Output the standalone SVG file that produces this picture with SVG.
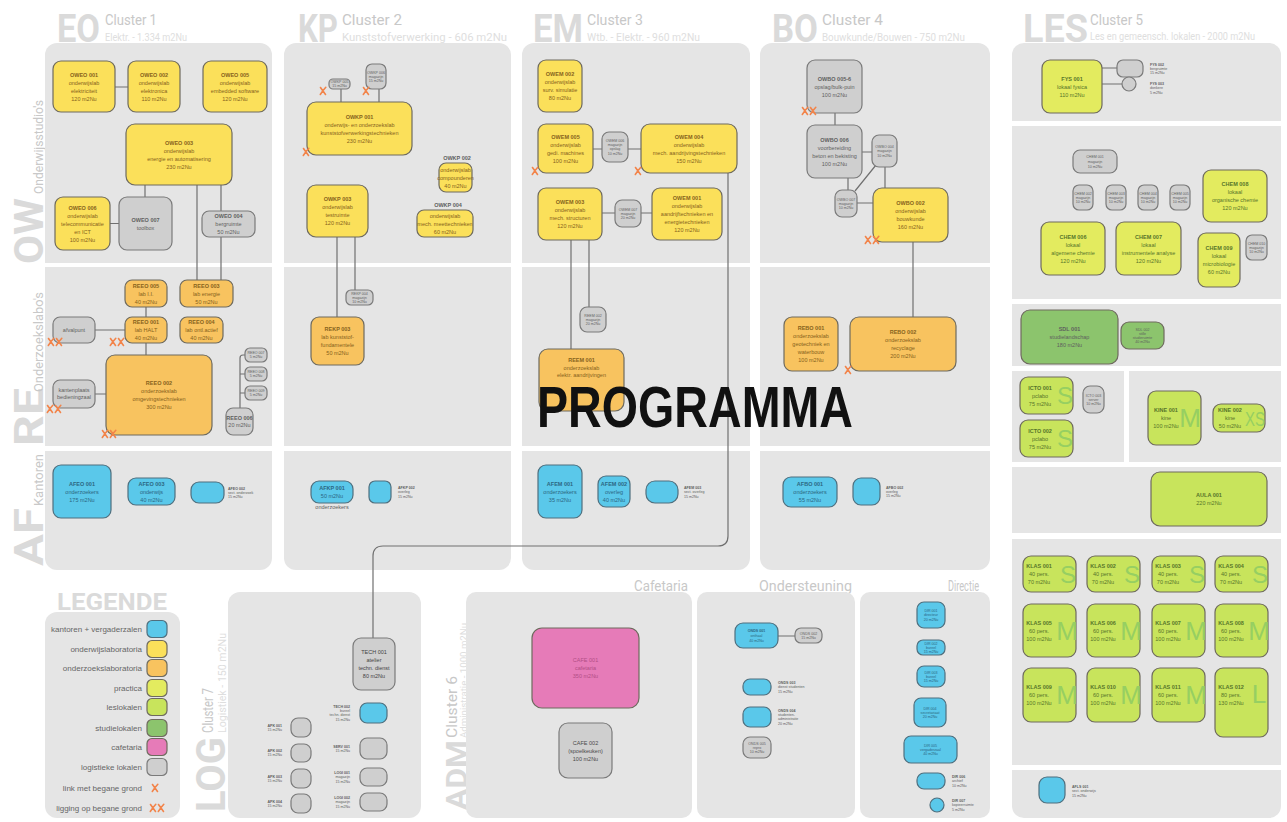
<svg xmlns="http://www.w3.org/2000/svg" width="1287" height="822" viewBox="0 0 1287 822">
<defs>
<style>
.pn{fill:#e5e5e5}
.wh{fill:#fff}
.n{stroke:#6e6a5e;stroke-width:1.2}
.yl{fill:#fbe05a}
.or{fill:#f8c35f}
.bl{fill:#5ac8ea;stroke:#4f6f7e}
.gy{fill:#cfcfcf;stroke:#7a7a7a}
.pr{fill:#e3eb5f}
.ls{fill:#c8e45c}
.st{fill:#8cc46d}
.cf{fill:#e67bb8}
.c{fill:none;stroke:#707070;stroke-width:1.2}
text{font-family:"Liberation Sans",Arial,sans-serif}
.t{font-size:5.5px;text-anchor:middle}
.tn{font-size:3.6px;text-anchor:middle}
.tl{font-size:3.6px}
.tr{font-size:3.6px;text-anchor:end}
.b{font-weight:bold}
.ty{fill:#86621c}
.tg{fill:#5f5f5f}
.tb{fill:#2c6782}
.tz{fill:#56752a}
.tp{fill:#b24f86}
.big{fill:#96cf62;text-anchor:middle}
.hd{fill:#dadada;font-weight:bold;font-family:"Liberation Sans Narrow","Roboto","Liberation Sans",sans-serif}
.cl{fill:#c8c8c8;font-family:"Liberation Sans Narrow","Roboto","Liberation Sans",sans-serif}
.sb{fill:#dedede;font-family:"Liberation Sans Narrow","Roboto","Liberation Sans",sans-serif}
.lg{font-size:8px;fill:#666;text-anchor:end}
.x{fill:none;stroke:#f2844a;stroke-width:1.6;stroke-linecap:round}
</style>
<g id="xs"><path class="x" d="M0.5,0.5 L5.5,7.5 M5.8,0.3 Q2.8,3.5 0.3,7.5"/></g>
<g id="xd"><use href="#xs"/><use href="#xs" x="8"/></g>
</defs>
<rect width="1287" height="822" fill="#fff"/>

<g id="headers">
<text class="hd" x="57" y="42" font-size="38" textLength="43" lengthAdjust="spacingAndGlyphs">EO</text>
<text class="cl" x="105" y="25" font-size="15" textLength="52" lengthAdjust="spacingAndGlyphs">Cluster 1</text>
<text class="sb" x="105" y="41" font-size="11" textLength="82" lengthAdjust="spacingAndGlyphs">Elektr. - 1.334 m2Nu</text>
<text class="hd" x="298" y="42" font-size="38" textLength="40" lengthAdjust="spacingAndGlyphs">KP</text>
<text class="cl" x="342" y="25" font-size="15" textLength="60" lengthAdjust="spacingAndGlyphs">Cluster 2</text>
<text class="sb" x="342" y="41" font-size="11" textLength="165" lengthAdjust="spacingAndGlyphs">Kunststofverwerking - 606 m2Nu</text>
<text class="hd" x="533" y="42" font-size="38" textLength="50" lengthAdjust="spacingAndGlyphs">EM</text>
<text class="cl" x="587" y="25" font-size="15" textLength="56" lengthAdjust="spacingAndGlyphs">Cluster 3</text>
<text class="sb" x="587" y="41" font-size="11" textLength="113" lengthAdjust="spacingAndGlyphs">Wtb. - Elektr. - 960 m2Nu</text>
<text class="hd" x="772" y="42" font-size="38" textLength="46" lengthAdjust="spacingAndGlyphs">BO</text>
<text class="cl" x="822" y="25" font-size="15" textLength="61" lengthAdjust="spacingAndGlyphs">Cluster 4</text>
<text class="sb" x="822" y="41" font-size="11" textLength="143" lengthAdjust="spacingAndGlyphs">Bouwkunde/Bouwen - 750 m2Nu</text>
<text class="hd" x="1023" y="42" font-size="38" textLength="65" lengthAdjust="spacingAndGlyphs">LES</text>
<text class="cl" x="1090" y="25" font-size="15" textLength="53" lengthAdjust="spacingAndGlyphs">Cluster 5</text>
<text class="sb" x="1090" y="40" font-size="10" textLength="165" lengthAdjust="spacingAndGlyphs">Les en gemeensch. lokalen - 2000 m2Nu</text>
<text class="hd" transform="translate(43,264) rotate(-90)" font-size="40" textLength="66" lengthAdjust="spacingAndGlyphs">OW</text>
<text class="cl" transform="translate(43,194) rotate(-90)" font-size="13" textLength="94" lengthAdjust="spacingAndGlyphs">Onderwijsstudio's</text>
<text class="hd" transform="translate(43,446) rotate(-90)" font-size="40" textLength="58" lengthAdjust="spacingAndGlyphs">RE</text>
<text class="cl" transform="translate(43,392) rotate(-90)" font-size="13" textLength="100" lengthAdjust="spacingAndGlyphs">Onderzoekslabo's</text>
<text class="hd" transform="translate(43,566) rotate(-90)" font-size="40" textLength="58" lengthAdjust="spacingAndGlyphs">AF</text>
<text class="cl" transform="translate(43,506) rotate(-90)" font-size="13" textLength="52" lengthAdjust="spacingAndGlyphs">Kantoren</text>
<text class="hd" transform="translate(225,812) rotate(-90)" font-size="40" textLength="75" lengthAdjust="spacingAndGlyphs">LOG</text>
<text class="cl" transform="translate(213,733) rotate(-90)" font-size="15" textLength="45" lengthAdjust="spacingAndGlyphs">Cluster 7</text>
<text class="sb" transform="translate(226,733) rotate(-90)" font-size="10" textLength="100" lengthAdjust="spacingAndGlyphs">Logistiek - 150 m2Nu</text>
<text class="hd" transform="translate(467,810) rotate(-90)" font-size="30" textLength="70" lengthAdjust="spacingAndGlyphs">ADM</text>
<text class="cl" transform="translate(457,738) rotate(-90)" font-size="14" textLength="62" lengthAdjust="spacingAndGlyphs">Cluster 6</text>
<text class="sb" transform="translate(467,738) rotate(-90)" font-size="9" textLength="115" lengthAdjust="spacingAndGlyphs">Administratie - 1000 m2Nu</text>
<text class="cl" x="688" y="591" font-size="15" text-anchor="end" textLength="54" lengthAdjust="spacingAndGlyphs">Cafetaria</text>
<text class="cl" x="852" y="591" font-size="15" text-anchor="end" textLength="93" lengthAdjust="spacingAndGlyphs">Ondersteuning</text>
<text class="cl" x="979" y="591" font-size="15" text-anchor="end" textLength="31" lengthAdjust="spacingAndGlyphs">Directie</text>
<text class="hd" x="57" y="610" font-size="24" textLength="110" lengthAdjust="spacingAndGlyphs">LEGENDE</text>
</g>

<g id="panels">
<rect class="pn" x="45" y="43" width="227" height="527" rx="12"/>
<rect class="pn" x="284" y="43" width="227" height="527" rx="12"/>
<rect class="pn" x="522" y="43" width="228" height="527" rx="12"/>
<rect class="pn" x="760" y="43" width="230" height="527" rx="12"/>
<rect class="wh" x="40" y="263" width="955" height="4"/>
<rect class="wh" x="40" y="446" width="955" height="5"/>
<rect class="pn" x="1012" y="43" width="269" height="775" rx="12"/>
<rect class="wh" x="1008" y="121" width="279" height="5"/>
<rect class="wh" x="1008" y="299" width="279" height="5"/>
<rect class="wh" x="1008" y="366" width="279" height="5"/>
<rect class="wh" x="1008" y="462" width="279" height="5"/>
<rect class="wh" x="1008" y="533" width="279" height="6"/>
<rect class="wh" x="1008" y="765" width="279" height="5"/>
<rect class="wh" x="1124" y="369" width="5" height="95"/>
<rect class="pn" x="45" y="612" width="135" height="206" rx="12"/>
<rect class="pn" x="228" y="592" width="193" height="226" rx="12"/>
<rect class="pn" x="466" y="592" width="226" height="226" rx="10"/>
<rect class="pn" x="697" y="592" width="158" height="226" rx="10"/>
<rect class="pn" x="860" y="592" width="130" height="226" rx="10"/>
</g>

<g id="connectors">
<path class="c" d="M115,87H128 M145,185V197 M110,223.5H119 M197,185V280 M221,185V211 M221,237V280 M146,307V317 M146,343V355 M95,330H125 M95,394H106 M245,355H243Q240,355 240,358V408 M240,374H245 M240,393H245"/>
<path class="c" d="M341,89V102 M379,89V102 M337,237V317 M355,237V290"/>
<path class="c" d="M593,149H602 M628,149H641 M602,213H615 M641,213H652 M571,240V349 M589,240V307"/>
<path class="c" d="M728,173V536Q728,546 718,546H383Q373,546 373,556V638"/>
<path class="c" d="M835,113V125 M862,152H872 M848,178V190 M857,203H873 M855,191L876,165 M885,167V188 M913,242V317"/>
<path class="c" d="M1102,68H1117 M1102,84H1122 M778,636H795"/>
</g>

<!-- Cluster 1 -->
<g id="OWEO001"><rect class="n yl" x="53" y="61" width="62" height="51" rx="8"/><text class="t ty" x="84" y="76.5"><tspan class="b">OWEO 001</tspan><tspan x="84" dy="8">onderwijslab</tspan><tspan x="84" dy="8">elektriciteit</tspan><tspan x="84" dy="8">120 m2Nu</tspan></text></g>
<g id="OWEO002"><rect class="n yl" x="128" y="61" width="52" height="51" rx="8"/><text class="t ty" x="154" y="76.5"><tspan class="b">OWEO 002</tspan><tspan x="154" dy="8">onderwijslab</tspan><tspan x="154" dy="8">elektronica</tspan><tspan x="154" dy="8">110 m2Nu</tspan></text></g>
<g id="OWEO005"><rect class="n yl" x="203" y="61" width="64" height="51" rx="8"/><text class="t ty" x="235" y="76.5"><tspan class="b">OWEO 005</tspan><tspan x="235" dy="8">onderwijslab</tspan><tspan x="235" dy="8">embedded software</tspan><tspan x="235" dy="8">120 m2Nu</tspan></text></g>
<g id="OWEO003"><rect class="n yl" x="126" y="124" width="106" height="61" rx="9"/><text class="t ty" x="179" y="144.5"><tspan class="b">OWEO 003</tspan><tspan x="179" dy="8">onderwijslab</tspan><tspan x="179" dy="8">energie en automatisering</tspan><tspan x="179" dy="8">230 m2Nu</tspan></text></g>
<g id="OWEO006"><rect class="n yl" x="55" y="197" width="55" height="53" rx="8"/><text class="t ty" x="82.5" y="209.5"><tspan class="b">OWEO 006</tspan><tspan x="82.5" dy="8">onderwijslab</tspan><tspan x="82.5" dy="8">telecommunicatie</tspan><tspan x="82.5" dy="8">en ICT</tspan><tspan x="82.5" dy="8">100 m2Nu</tspan></text></g>
<g id="OWEO007"><rect class="n gy" x="119" y="197" width="53" height="53" rx="8"/><text class="t tg" x="145.5" y="221.5"><tspan class="b">OWEO 007</tspan><tspan x="145.5" dy="8">toolbox</tspan></text></g>
<g id="OWEO004"><rect class="n gy" x="202" y="211" width="53" height="26" rx="7"/><text class="t tg" x="228.5" y="218"><tspan class="b">OWEO 004</tspan><tspan x="228.5" dy="8">bergruimte</tspan><tspan x="228.5" dy="8">50 m2Nu</tspan></text></g>
<g id="REEO005"><rect class="n or" x="125" y="280" width="42" height="27" rx="7"/><text class="t ty" x="146" y="287.5"><tspan class="b">REEO 005</tspan><tspan x="146" dy="8">lab I.I.</tspan><tspan x="146" dy="8">40 m2Nu</tspan></text></g>
<g id="REEO003"><rect class="n or" x="180" y="280" width="53" height="27" rx="7"/><text class="t ty" x="206.5" y="287.5"><tspan class="b">REEO 003</tspan><tspan x="206.5" dy="8">lab energie</tspan><tspan x="206.5" dy="8">50 m2Nu</tspan></text></g>
<g id="REEO001"><rect class="n or" x="125" y="317" width="42" height="26" rx="7"/><text class="t ty" x="146" y="324"><tspan class="b">REEO 001</tspan><tspan x="146" dy="8">lab HALT</tspan><tspan x="146" dy="8">40 m2Nu</tspan></text></g>
<g id="REEO004"><rect class="n or" x="180" y="317" width="43" height="26" rx="7"/><text class="t ty" x="201.5" y="324"><tspan class="b">REEO 004</tspan><tspan x="201.5" dy="8">lab ontl.actief</tspan><tspan x="201.5" dy="8">40 m2Nu</tspan></text></g>
<g id="afvalpunt"><rect class="n gy" x="53" y="317" width="42" height="26" rx="7"/><text class="t tg" x="74" y="332">afvalpunt</text></g>
<g id="REEO002"><rect class="n or" x="106" y="355" width="106" height="80" rx="9"/><text class="t ty" x="159" y="385"><tspan class="b">REEO 002</tspan><tspan x="159" dy="8">onderzoekslab</tspan><tspan x="159" dy="8">omgevingstechnieken</tspan><tspan x="159" dy="8">300 m2Nu</tspan></text></g>
<g id="bedienzaal"><rect class="n gy" x="53" y="380" width="42" height="28" rx="7"/><text class="t tg" x="74" y="392" font-size="4.6"><tspan>kantenplaats</tspan><tspan x="74" dy="7">bedieningzaal</tspan></text></g>
<g id="REEO007"><rect class="n gy" x="245" y="348" width="22" height="14" rx="5"/><text class="tn tg" x="256" y="354.2"><tspan>REEO 007</tspan><tspan x="256" dy="4.2">5 m2Nu</tspan></text></g>
<g id="REEO008"><rect class="n gy" x="245" y="367" width="22" height="14" rx="5"/><text class="tn tg" x="256" y="373.2"><tspan>REEO 008</tspan><tspan x="256" dy="4.2">5 m2Nu</tspan></text></g>
<g id="REEO009"><rect class="n gy" x="245" y="386" width="22" height="14" rx="5"/><text class="tn tg" x="256" y="392.2"><tspan>REEO 009</tspan><tspan x="256" dy="4.2">5 m2Nu</tspan></text></g>
<g id="REEO006"><rect class="n gy" x="226" y="408" width="27" height="27" rx="7"/><text class="t tg" x="239.5" y="419.5" font-size="4.6"><tspan class="b">REEO 006</tspan><tspan x="239.5" dy="7">20 m2Nu</tspan></text></g>
<g id="AFEO001"><rect class="n bl" x="53" y="465" width="58" height="53" rx="8"/><text class="t tb" x="82" y="485.5"><tspan class="b">AFEO 001</tspan><tspan x="82" dy="8">onderzoekers</tspan><tspan x="82" dy="8">175 m2Nu</tspan></text></g>
<g id="AFEO003"><rect class="n bl" x="128" y="478" width="47" height="27" rx="8"/><text class="t tb" x="151.5" y="485.5"><tspan class="b">AFEO 003</tspan><tspan x="151.5" dy="8">onderwijs</tspan><tspan x="151.5" dy="8">40 m2Nu</tspan></text></g>
<g id="AFEO002"><rect class="n bl" x="191" y="482" width="33" height="21" rx="8"/><text class="tl tg" x="228" y="489.6"><tspan class="b">AFEO 002</tspan><tspan x="228" dy="4.2">sect. onderzoek</tspan><tspan x="228" dy="4.2">15 m2Nu</tspan></text></g>

<!-- Cluster 2 -->
<g id="OWKP005"><rect class="n gy" x="329" y="79" width="21" height="10" rx="4"/><text class="tn tg" x="339.5" y="83.2"><tspan>OWKP 005</tspan><tspan x="339.5" dy="4">15 m2Nu</tspan></text></g>
<g id="OWKP006"><rect class="n gy" x="366" y="64" width="20" height="25" rx="6"/><text class="tn tg" x="376" y="73.6"><tspan>OWKP 006</tspan><tspan x="376" dy="4.2">magazijn</tspan><tspan x="376" dy="4.2">15 m2Nu</tspan></text></g>
<g id="OWKP001"><rect class="n yl" x="307" y="102" width="105" height="53" rx="9"/><text class="t ty" x="359.5" y="118.5"><tspan class="b">OWKP 001</tspan><tspan x="359.5" dy="8">onderwijs- en onderzoekslab</tspan><tspan x="359.5" dy="8">kunststofverwerkingstechnieken</tspan><tspan x="359.5" dy="8">230 m2Nu</tspan></text></g>
<g id="OWKP002"><text class="t tg b" x="457" y="160">OWKP 002</text><rect class="n yl" x="439" y="163" width="33" height="29" rx="7"/><text class="t ty" x="455.5" y="171.5" font-size="4.8"><tspan>onderwijslab</tspan><tspan x="455.5" dy="8">compounderen</tspan><tspan x="455.5" dy="8">40 m2Nu</tspan></text></g>
<g id="OWKP004"><text class="t tg b" x="448" y="207">OWKP 004</text><rect class="n yl" x="417" y="210" width="56" height="27" rx="7"/><text class="t ty" x="445" y="217.5"><tspan>onderwijslab</tspan><tspan x="445" dy="8">mech. meettechnieken</tspan><tspan x="445" dy="8">60 m2Nu</tspan></text></g>
<g id="OWKP003"><rect class="n yl" x="307" y="185" width="61" height="52" rx="9"/><text class="t ty" x="337.5" y="201"><tspan class="b">OWKP 003</tspan><tspan x="337.5" dy="8">onderwijslab</tspan><tspan x="337.5" dy="8">testruimte</tspan><tspan x="337.5" dy="8">120 m2Nu</tspan></text></g>
<g id="REKP004"><rect class="n gy" x="346" y="290" width="27" height="15" rx="5"/><text class="tn tg" x="359.5" y="294.6"><tspan>REKP 004</tspan><tspan x="359.5" dy="4.2">magazijn</tspan><tspan x="359.5" dy="4.2">10 m2Nu</tspan></text></g>
<g id="REKP003"><rect class="n or" x="311" y="317" width="53" height="48" rx="8"/><text class="t ty" x="337.5" y="331"><tspan class="b">REKP 003</tspan><tspan x="337.5" dy="8">lab kunststof-</tspan><tspan x="337.5" dy="8">fundamentele</tspan><tspan x="337.5" dy="8">50 m2Nu</tspan></text></g>
<g id="AFKP001"><rect class="n bl" x="311" y="481" width="42" height="22" rx="8"/><text class="t tb" x="332" y="490"><tspan class="b">AFKP 001</tspan><tspan x="332" dy="8">50 m2Nu</tspan></text><text class="t tg" x="332" y="509" font-size="4.6">onderzoekers</text></g>
<g id="AFKP002"><rect class="n bl" x="369" y="481" width="22" height="22" rx="6"/><text class="tl tg" x="398" y="489.1"><tspan class="b">AFKP 002</tspan><tspan x="398" dy="4.2">overleg</tspan><tspan x="398" dy="4.2">15 m2Nu</tspan></text></g>

<!-- Cluster 3 -->
<g id="OWEM002"><rect class="n yl" x="538" y="60" width="44" height="52" rx="8"/><text class="t ty" x="560" y="76" font-size="5"><tspan class="b">OWEM 002</tspan><tspan x="560" dy="8">onderwijslab</tspan><tspan x="560" dy="8">surv. simulatie</tspan><tspan x="560" dy="8">80 m2Nu</tspan></text></g>
<g id="OWEM005"><rect class="n yl" x="538" y="124" width="55" height="49" rx="8"/><text class="t ty" x="565.5" y="138.5"><tspan class="b">OWEM 005</tspan><tspan x="565.5" dy="8">onderwijslab</tspan><tspan x="565.5" dy="8">gedi. machines</tspan><tspan x="565.5" dy="8">100 m2Nu</tspan></text></g>
<g id="OWEM006"><rect class="n gy" x="602" y="132" width="26" height="30" rx="7"/><text class="tn tg" x="615" y="142"><tspan>OWEM 006</tspan><tspan x="615" dy="4.2">magazijn</tspan><tspan x="615" dy="4.2">opslag</tspan><tspan x="615" dy="4.2">10 m2Nu</tspan></text></g>
<g id="OWEM004"><rect class="n yl" x="641" y="124" width="96" height="49" rx="9"/><text class="t ty" x="689" y="138.5"><tspan class="b">OWEM 004</tspan><tspan x="689" dy="8">onderwijslab</tspan><tspan x="689" dy="8">mech. aandrijvingstechnieken</tspan><tspan x="689" dy="8">150 m2Nu</tspan></text></g>
<g id="OWEM003"><rect class="n yl" x="538" y="188" width="64" height="52" rx="8"/><text class="t ty" x="570" y="204"><tspan class="b">OWEM 003</tspan><tspan x="570" dy="8">onderwijslab</tspan><tspan x="570" dy="8">mech. structuren</tspan><tspan x="570" dy="8">120 m2Nu</tspan></text></g>
<g id="OWEM007"><rect class="n gy" x="615" y="200" width="26" height="27" rx="7"/><text class="tn tg" x="628" y="210.6"><tspan>OWEM 007</tspan><tspan x="628" dy="4.2">magazijn</tspan><tspan x="628" dy="4.2">20 m2Nu</tspan></text></g>
<g id="OWEM001"><rect class="n yl" x="652" y="188" width="70" height="52" rx="8"/><text class="t ty" x="687" y="200"><tspan class="b">OWEM 001</tspan><tspan x="687" dy="8">onderwijslab</tspan><tspan x="687" dy="8">aandrijftechnieken en</tspan><tspan x="687" dy="8">energietechnieken</tspan><tspan x="687" dy="8">120 m2Nu</tspan></text></g>
<g id="REEM002"><rect class="n gy" x="580" y="307" width="26" height="25" rx="7"/><text class="tn tg" x="593" y="316.6"><tspan>REEM 002</tspan><tspan x="593" dy="4.2">magazijn</tspan><tspan x="593" dy="4.2">20 m2Nu</tspan></text></g>
<g id="REEM001"><rect class="n or" x="539" y="349" width="85" height="62" rx="9"/><text class="t ty" x="581.5" y="362"><tspan class="b">REEM 001</tspan><tspan x="581.5" dy="7.5">onderzoekslab</tspan><tspan x="581.5" dy="7.5">elektr. aandrijvingen</tspan></text></g>
<g id="AFEM001"><rect class="n bl" x="538" y="465" width="44" height="53" rx="8"/><text class="t tb" x="560" y="485.5"><tspan class="b">AFEM 001</tspan><tspan x="560" dy="8">onderzoekers</tspan><tspan x="560" dy="8">35 m2Nu</tspan></text></g>
<g id="AFEM002"><rect class="n bl" x="598" y="476" width="32" height="31" rx="8"/><text class="t tb" x="614" y="485.5" font-size="5"><tspan class="b">AFEM 002</tspan><tspan x="614" dy="8">overleg</tspan><tspan x="614" dy="8">40 m2Nu</tspan></text></g>
<g id="AFEM003"><rect class="n bl" x="646" y="481" width="32" height="22" rx="9"/><text class="tl tg" x="684" y="489.1"><tspan class="b">AFEM 003</tspan><tspan x="684" dy="4.2">sect. overleg</tspan><tspan x="684" dy="4.2">15 m2Nu</tspan></text></g>

<!-- Cluster 4 -->
<g id="OWBO005"><rect class="n gy" x="807" y="60" width="55" height="53" rx="8"/><text class="t tg" x="834.5" y="80.5"><tspan class="b">OWBO 005-6</tspan><tspan x="834.5" dy="8">opslag/bulk-puin</tspan><tspan x="834.5" dy="8">100 m2Nu</tspan></text></g>
<g id="OWBO006"><rect class="n gy" x="807" y="125" width="55" height="53" rx="8"/><text class="t tg" x="834.5" y="141.5"><tspan class="b">OWBO 006</tspan><tspan x="834.5" dy="8">voorbereiding</tspan><tspan x="834.5" dy="8">beton en bekisting</tspan><tspan x="834.5" dy="8">100 m2Nu</tspan></text></g>
<g id="OWBO004"><rect class="n gy" x="872" y="135" width="25" height="32" rx="7"/><text class="tn tg" x="884.5" y="148.1"><tspan>OWBO 004</tspan><tspan x="884.5" dy="4.2">magazijn</tspan><tspan x="884.5" dy="4.2">10 m2Nu</tspan></text></g>
<g id="OWBO007"><rect class="n gy" x="835" y="190" width="22" height="27" rx="7"/><text class="tn tg" x="846" y="200.6"><tspan>OWBO 007</tspan><tspan x="846" dy="4.2">magazijn</tspan><tspan x="846" dy="4.2">10 m2Nu</tspan></text></g>
<g id="OWBO002"><rect class="n yl" x="873" y="188" width="75" height="54" rx="9"/><text class="t ty" x="910.5" y="205"><tspan class="b">OWBO 002</tspan><tspan x="910.5" dy="8">onderwijslab</tspan><tspan x="910.5" dy="8">bouwkunde</tspan><tspan x="910.5" dy="8">160 m2Nu</tspan></text></g>
<g id="REBO001"><rect class="n or" x="784" y="317" width="54" height="54" rx="8"/><text class="t ty" x="811" y="330"><tspan class="b">REBO 001</tspan><tspan x="811" dy="8">onderzoekslab</tspan><tspan x="811" dy="8">geotechniek en</tspan><tspan x="811" dy="8">waterbouw</tspan><tspan x="811" dy="8">100 m2Nu</tspan></text></g>
<g id="REBO002"><rect class="n or" x="850" y="317" width="106" height="54" rx="9"/><text class="t ty" x="903" y="334"><tspan class="b">REBO 002</tspan><tspan x="903" dy="8">onderzoekslab</tspan><tspan x="903" dy="8">recyclage</tspan><tspan x="903" dy="8">200 m2Nu</tspan></text></g>
<g id="AFBO001"><rect class="n bl" x="783" y="477" width="54" height="30" rx="8"/><text class="t tb" x="810" y="486"><tspan class="b">AFBO 001</tspan><tspan x="810" dy="8">onderzoekers</tspan><tspan x="810" dy="8">55 m2Nu</tspan></text></g>
<g id="AFBO002"><rect class="n bl" x="853" y="478" width="27" height="27" rx="8"/><text class="tl tg" x="886" y="488.6"><tspan class="b">AFBO 002</tspan><tspan x="886" dy="4.2">overleg</tspan><tspan x="886" dy="4.2">15 m2Nu</tspan></text></g>

<!-- Cluster 5 -->
<g id="FYS001"><rect class="n pr" x="1042" y="60" width="60" height="53" rx="8"/><text class="t tz" x="1072" y="80.5"><tspan class="b">FYS 001</tspan><tspan x="1072" dy="8">lokaal fysica</tspan><tspan x="1072" dy="8">110 m2Nu</tspan></text></g>
<g id="FYS002"><rect class="n gy" x="1117" y="60" width="26" height="17" rx="6"/><text class="tl tg" x="1150" y="65.6"><tspan class="b">FYS 002</tspan><tspan x="1150" dy="4.2">bergruimte</tspan><tspan x="1150" dy="4.2">15 m2Nu</tspan></text></g>
<g id="FYS003"><circle class="n gy" cx="1129" cy="84" r="7"/><text class="tl tg" x="1150" y="85.1"><tspan class="b">FYS 003</tspan><tspan x="1150" dy="4.2">donkere</tspan><tspan x="1150" dy="4.2">5 m2Nu</tspan></text></g>
<g id="CHEM001"><rect class="n gy" x="1073" y="150" width="44" height="23" rx="7"/><text class="tn tg" x="1095" y="158" font-size="4.4"><tspan>CHEM 001</tspan><tspan x="1095" dy="5">magazijn</tspan><tspan x="1095" dy="5">10 m2Nu</tspan></text></g>
<g id="CHEM002"><rect class="n gy" x="1073" y="185" width="20" height="25" rx="6"/><text class="tn tg" x="1083" y="194.6"><tspan>CHEM 002</tspan><tspan x="1083" dy="4.2">magazijn</tspan><tspan x="1083" dy="4.2">10 m2Nu</tspan></text></g>
<g id="CHEM003"><rect class="n gy" x="1106" y="185" width="20" height="25" rx="6"/><text class="tn tg" x="1116" y="194.6"><tspan>CHEM 003</tspan><tspan x="1116" dy="4.2">magazijn</tspan><tspan x="1116" dy="4.2">10 m2Nu</tspan></text></g>
<g id="CHEM004"><rect class="n gy" x="1138" y="185" width="20" height="25" rx="6"/><text class="tn tg" x="1148" y="194.6"><tspan>CHEM 004</tspan><tspan x="1148" dy="4.2">magazijn</tspan><tspan x="1148" dy="4.2">10 m2Nu</tspan></text></g>
<g id="CHEM005"><rect class="n gy" x="1170" y="185" width="20" height="25" rx="6"/><text class="tn tg" x="1180" y="194.6"><tspan>CHEM 005</tspan><tspan x="1180" dy="4.2">magazijn</tspan><tspan x="1180" dy="4.2">10 m2Nu</tspan></text></g>
<g id="CHEM008"><rect class="n pr" x="1203" y="170" width="64" height="52" rx="8"/><text class="t tz" x="1235" y="186"><tspan class="b">CHEM 008</tspan><tspan x="1235" dy="8">lokaal</tspan><tspan x="1235" dy="8">organische chemie</tspan><tspan x="1235" dy="8">120 m2Nu</tspan></text></g>
<g id="CHEM006"><rect class="n pr" x="1041" y="222" width="64" height="53" rx="8"/><text class="t tz" x="1073" y="238.5"><tspan class="b">CHEM 006</tspan><tspan x="1073" dy="8">lokaal</tspan><tspan x="1073" dy="8">algemene chemie</tspan><tspan x="1073" dy="8">120 m2Nu</tspan></text></g>
<g id="CHEM007"><rect class="n pr" x="1116" y="222" width="65" height="53" rx="8"/><text class="t tz" x="1148.5" y="238.5"><tspan class="b">CHEM 007</tspan><tspan x="1148.5" dy="8">lokaal</tspan><tspan x="1148.5" dy="8">instrumentele analyse</tspan><tspan x="1148.5" dy="8">120 m2Nu</tspan></text></g>
<g id="CHEM009"><rect class="n pr" x="1198" y="233" width="42" height="54" rx="8"/><text class="t tz" x="1219" y="250"><tspan class="b">CHEM 009</tspan><tspan x="1219" dy="8">lokaal</tspan><tspan x="1219" dy="8">microbiologie</tspan><tspan x="1219" dy="8">60 m2Nu</tspan></text></g>
<g id="CHEM010"><rect class="n gy" x="1246" y="235" width="21" height="25" rx="6"/><text class="tn tg" x="1256.5" y="244.6"><tspan>CHEM 010</tspan><tspan x="1256.5" dy="4.2">magazijn</tspan><tspan x="1256.5" dy="4.2">10 m2Nu</tspan></text></g>
<g id="SDL001"><rect class="n st" x="1021" y="310" width="97" height="54" rx="9"/><text class="t tg" x="1069.5" y="331"><tspan class="b">SDL 001</tspan><tspan x="1069.5" dy="8">studielandschap</tspan><tspan x="1069.5" dy="8">180 m2Nu</tspan></text></g>
<g id="SDL002"><rect class="n st" x="1121" y="322" width="43" height="27" rx="8"/><text class="tn tg" x="1142.5" y="330.6" font-size="4"><tspan>SDL 002</tspan><tspan x="1142.5" dy="4.2">stille</tspan><tspan x="1142.5" dy="4.2">studieruimte</tspan><tspan x="1142.5" dy="4.2">40 m2Nu</tspan></text></g>
<g id="ICTO001"><rect class="n ls" x="1020" y="377" width="53" height="37" rx="8"/><text class="t tz" x="1040" y="389.5"><tspan class="b">ICTO 001</tspan><tspan x="1040" dy="8">pclabo</tspan><tspan x="1040" dy="8">75 m2Nu</tspan></text><text class="big" x="1065" y="404" font-size="24">S</text></g>
<g id="ICTO002"><rect class="n ls" x="1020" y="420" width="53" height="37" rx="8"/><text class="t tz" x="1040" y="432.5"><tspan class="b">ICTO 002</tspan><tspan x="1040" dy="8">pclabo</tspan><tspan x="1040" dy="8">75 m2Nu</tspan></text><text class="big" x="1065" y="447" font-size="24">S</text></g>
<g id="ICTO003"><rect class="n gy" x="1083" y="386" width="21" height="27" rx="7"/><text class="tn tg" x="1093.5" y="396.6"><tspan>ICTO 003</tspan><tspan x="1093.5" dy="4.2">server</tspan><tspan x="1093.5" dy="4.2">10 m2Nu</tspan></text></g>
<g id="KINE001"><rect class="n ls" x="1148" y="391" width="53" height="54" rx="8"/><text class="t tz" x="1166" y="412"><tspan class="b">KINE 001</tspan><tspan x="1166" dy="8">kine</tspan><tspan x="1166" dy="8">100 m2Nu</tspan></text><text class="big" x="1190" y="427" font-size="26">M</text></g>
<g id="KINE002"><rect class="n ls" x="1213" y="404" width="52" height="28" rx="8"/><text class="t tz" x="1230" y="412"><tspan class="b">KINE 002</tspan><tspan x="1230" dy="8">kine</tspan><tspan x="1230" dy="8">50 m2Nu</tspan></text><text class="big" x="1255" y="426" font-size="20" textLength="20" lengthAdjust="spacingAndGlyphs">XS</text></g>
<g id="AULA001"><rect class="n ls" x="1151" y="472" width="116" height="54" rx="9"/><text class="t tz" x="1209" y="497"><tspan class="b">AULA 001</tspan><tspan x="1209" dy="8">220 m2Nu</tspan></text></g>

<g id="KLAS001"><rect class="n ls" x="1023" y="556" width="53" height="36" rx="8"/><text class="t tz" x="1039" y="568"><tspan class="b">KLAS 001</tspan><tspan x="1039" dy="8">40 pers.</tspan><tspan x="1039" dy="8">70 m2Nu</tspan></text><text class="big" x="1068" y="583" font-size="24">S</text></g>
<g id="KLAS002"><rect class="n ls" x="1087" y="556" width="53" height="36" rx="8"/><text class="t tz" x="1103" y="568"><tspan class="b">KLAS 002</tspan><tspan x="1103" dy="8">40 pers.</tspan><tspan x="1103" dy="8">70 m2Nu</tspan></text><text class="big" x="1132" y="583" font-size="24">S</text></g>
<g id="KLAS003"><rect class="n ls" x="1152" y="556" width="53" height="36" rx="8"/><text class="t tz" x="1168" y="568"><tspan class="b">KLAS 003</tspan><tspan x="1168" dy="8">40 pers.</tspan><tspan x="1168" dy="8">70 m2Nu</tspan></text><text class="big" x="1197" y="583" font-size="24">S</text></g>
<g id="KLAS004"><rect class="n ls" x="1215" y="556" width="53" height="36" rx="8"/><text class="t tz" x="1231" y="568"><tspan class="b">KLAS 004</tspan><tspan x="1231" dy="8">40 pers.</tspan><tspan x="1231" dy="8">70 m2Nu</tspan></text><text class="big" x="1260" y="583" font-size="24">S</text></g>
<g id="KLAS005"><rect class="n ls" x="1023" y="604" width="53" height="53" rx="8"/><text class="t tz" x="1039" y="624.5"><tspan class="b">KLAS 005</tspan><tspan x="1039" dy="8">60 pers.</tspan><tspan x="1039" dy="8">100 m2Nu</tspan></text><text class="big" x="1067" y="640" font-size="26">M</text></g>
<g id="KLAS006"><rect class="n ls" x="1087" y="604" width="53" height="53" rx="8"/><text class="t tz" x="1103" y="624.5"><tspan class="b">KLAS 006</tspan><tspan x="1103" dy="8">60 pers.</tspan><tspan x="1103" dy="8">100 m2Nu</tspan></text><text class="big" x="1131" y="640" font-size="26">M</text></g>
<g id="KLAS007"><rect class="n ls" x="1152" y="604" width="53" height="53" rx="8"/><text class="t tz" x="1168" y="624.5"><tspan class="b">KLAS 007</tspan><tspan x="1168" dy="8">60 pers.</tspan><tspan x="1168" dy="8">100 m2Nu</tspan></text><text class="big" x="1196" y="640" font-size="26">M</text></g>
<g id="KLAS008"><rect class="n ls" x="1215" y="604" width="53" height="53" rx="8"/><text class="t tz" x="1231" y="624.5"><tspan class="b">KLAS 008</tspan><tspan x="1231" dy="8">60 pers.</tspan><tspan x="1231" dy="8">100 m2Nu</tspan></text><text class="big" x="1259" y="640" font-size="26">M</text></g>
<g id="KLAS009"><rect class="n ls" x="1023" y="668" width="53" height="54" rx="8"/><text class="t tz" x="1039" y="689"><tspan class="b">KLAS 009</tspan><tspan x="1039" dy="8">60 pers.</tspan><tspan x="1039" dy="8">100 m2Nu</tspan></text><text class="big" x="1067" y="704" font-size="26">M</text></g>
<g id="KLAS010"><rect class="n ls" x="1087" y="668" width="53" height="54" rx="8"/><text class="t tz" x="1103" y="689"><tspan class="b">KLAS 010</tspan><tspan x="1103" dy="8">60 pers.</tspan><tspan x="1103" dy="8">100 m2Nu</tspan></text><text class="big" x="1131" y="704" font-size="26">M</text></g>
<g id="KLAS011"><rect class="n ls" x="1152" y="668" width="53" height="54" rx="8"/><text class="t tz" x="1168" y="689"><tspan class="b">KLAS 011</tspan><tspan x="1168" dy="8">60 pers.</tspan><tspan x="1168" dy="8">100 m2Nu</tspan></text><text class="big" x="1196" y="704" font-size="26">M</text></g>
<g id="KLAS012"><rect class="n ls" x="1215" y="668" width="53" height="69" rx="8"/><text class="t tz" x="1231" y="689"><tspan class="b">KLAS 012</tspan><tspan x="1231" dy="8">80 pers.</tspan><tspan x="1231" dy="8">130 m2Nu</tspan></text><text class="big" x="1259" y="703" font-size="26">L</text></g>
<g id="AFLS001"><rect class="n bl" x="1039" y="777" width="26" height="26" rx="8"/><text class="tl tg" x="1072" y="788.1"><tspan class="b">AFLS 001</tspan><tspan x="1072" dy="4.2">sect. onderwijs</tspan><tspan x="1072" dy="4.2">15 m2Nu</tspan></text></g>

<!-- Cluster 7 LOG -->
<g id="TECH001"><rect class="n gy" x="353" y="638" width="42" height="52" rx="8"/><text class="t" fill="#444" x="374" y="654"><tspan>TECH 001</tspan><tspan x="374" dy="8">atelier</tspan><tspan x="374" dy="8">techn. dienst</tspan><tspan x="374" dy="8">80 m2Nu</tspan></text></g>
<g id="TECH002"><rect class="n bl" x="360" y="703" width="27" height="20" rx="7"/><text class="tr tg" x="350" y="708"><tspan class="b">TECH 002</tspan><tspan x="350" dy="4.2">bureel</tspan><tspan x="350" dy="4.2">techn. dienst</tspan><tspan x="350" dy="4.2">15 m2Nu</tspan></text></g>
<g id="SERV001"><rect class="n gy" x="360" y="738" width="27" height="21" rx="7"/><text class="tr tg" x="350" y="747.7"><tspan class="b">SERV 001</tspan><tspan x="350" dy="4.2">15 m2Nu</tspan></text></g>
<g id="LOGI001"><rect class="n gy" x="360" y="768" width="27" height="18" rx="7"/><text class="tr tg" x="350" y="774.1"><tspan class="b">LOGI 001</tspan><tspan x="350" dy="4.2">magazijn</tspan><tspan x="350" dy="4.2">15 m2Nu</tspan></text></g>
<g id="LOGI002"><rect class="n gy" x="360" y="793" width="27" height="18" rx="7"/><text class="tr tg" x="350" y="799.1"><tspan class="b">LOGI 002</tspan><tspan x="350" dy="4.2">magazijn</tspan><tspan x="350" dy="4.2">15 m2Nu</tspan></text></g>
<g id="APK001"><rect class="n gy" x="291" y="718" width="20" height="19" rx="7"/><text class="tr tg" x="282" y="726.7"><tspan class="b">APK 001</tspan><tspan x="282" dy="4.2">15 m2Nu</tspan></text></g>
<g id="APK002"><rect class="n gy" x="291" y="744" width="20" height="18" rx="7"/><text class="tr tg" x="282" y="752.2"><tspan class="b">APK 002</tspan><tspan x="282" dy="4.2">15 m2Nu</tspan></text></g>
<g id="APK003"><rect class="n gy" x="291" y="769" width="20" height="19" rx="7"/><text class="tr tg" x="282" y="777.7"><tspan class="b">APK 003</tspan><tspan x="282" dy="4.2">15 m2Nu</tspan></text></g>
<g id="APK004"><rect class="n gy" x="291" y="794" width="20" height="19" rx="7"/><text class="tr tg" x="282" y="802.7"><tspan class="b">APK 004</tspan><tspan x="282" dy="4.2">15 m2Nu</tspan></text></g>

<!-- Cluster 6 ADM -->
<g id="CAFE001"><rect class="n cf" x="532" y="628" width="107" height="80" rx="10"/><text class="t tp" x="585.5" y="662"><tspan>CAFE 001</tspan><tspan x="585.5" dy="8">cafetaria</tspan><tspan x="585.5" dy="8">350 m2Nu</tspan></text></g>
<g id="CAFE002"><rect class="n gy" x="559" y="723" width="53" height="55" rx="9"/><text class="t" fill="#4a4a4a" x="585.5" y="744.5" font-size="6"><tspan>CAFE 002</tspan><tspan x="585.5" dy="8">(spoelkeuken)</tspan><tspan x="585.5" dy="8">100 m2Nu</tspan></text></g>
<g id="ONDS001"><rect class="n bl" x="735" y="623" width="43" height="25" rx="8"/><text class="tn tb" x="756.5" y="632.1" font-size="4.4"><tspan class="b">ONDS 001</tspan><tspan x="756.5" dy="5">onthaal</tspan><tspan x="756.5" dy="5">40 m2Nu</tspan></text></g>
<g id="ONDS002"><rect class="n gy" x="795" y="628" width="27" height="15" rx="6"/><text class="tn tg" x="808.5" y="634.7"><tspan>ONDS 002</tspan><tspan x="808.5" dy="4.2">15 m2Nu</tspan></text></g>
<g id="ONDS003"><rect class="n bl" x="743" y="679" width="28" height="16" rx="7"/><text class="tl tg" x="778" y="684.1"><tspan class="b">ONDS 003</tspan><tspan x="778" dy="4.2">dienst studenten</tspan><tspan x="778" dy="4.2">15 m2Nu</tspan></text></g>
<g id="ONDS004"><rect class="n bl" x="743" y="707" width="28" height="20" rx="7"/><text class="tl tg" x="778" y="712"><tspan class="b">ONDS 004</tspan><tspan x="778" dy="4.2">studenten-</tspan><tspan x="778" dy="4.2">administratie</tspan><tspan x="778" dy="4.2">20 m2Nu</tspan></text></g>
<g id="ONDS005"><rect class="n gy" x="743" y="737" width="28" height="21" rx="7"/><text class="tn tg" x="757" y="744.6"><tspan>ONDS 005</tspan><tspan x="757" dy="4.2">repro</tspan><tspan x="757" dy="4.2">10 m2Nu</tspan></text></g>
<g id="DIR001"><rect class="n bl" x="917" y="602" width="28" height="26" rx="7"/><text class="tn tb" x="931" y="612.1"><tspan>DIR 001</tspan><tspan x="931" dy="4.2">directeur</tspan><tspan x="931" dy="4.2">20 m2Nu</tspan></text></g>
<g id="DIR002"><rect class="n bl" x="917" y="640" width="28" height="15" rx="6"/><text class="tn tb" x="931" y="644.6"><tspan>DIR 002</tspan><tspan x="931" dy="4.2">bureel</tspan><tspan x="931" dy="4.2">15 m2Nu</tspan></text></g>
<g id="DIR003"><rect class="n bl" x="917" y="666" width="28" height="21" rx="7"/><text class="tn tb" x="931" y="673.6"><tspan>DIR 003</tspan><tspan x="931" dy="4.2">bureel</tspan><tspan x="931" dy="4.2">15 m2Nu</tspan></text></g>
<g id="DIR004"><rect class="n bl" x="914" y="698" width="32" height="29" rx="7"/><text class="tn tb" x="930" y="709.6"><tspan>DIR 004</tspan><tspan x="930" dy="4.2">secretariaat</tspan><tspan x="930" dy="4.2">20 m2Nu</tspan></text></g>
<g id="DIR005"><rect class="n bl" x="904" y="736" width="53" height="27" rx="7"/><text class="tn tb" x="930.5" y="746.6"><tspan>DIR 005</tspan><tspan x="930.5" dy="4.2">vergaderzaal</tspan><tspan x="930.5" dy="4.2">40 m2Nu</tspan></text></g>
<g id="DIR006"><rect class="n bl" x="917" y="773" width="28" height="16" rx="7"/><text class="tl tg" x="952" y="778.1"><tspan class="b">DIR 006</tspan><tspan x="952" dy="4.2">archief</tspan><tspan x="952" dy="4.2">10 m2Nu</tspan></text></g>
<g id="DIR007"><circle class="n bl" cx="937" cy="805" r="7"/><text class="tl tg" x="952" y="802.1"><tspan class="b">DIR 007</tspan><tspan x="952" dy="4.2">kopieerruimte</tspan><tspan x="952" dy="4.2">5 m2Nu</tspan></text></g>

<g id="marks">
<use href="#xd" x="48" y="338"/><use href="#xd" x="110" y="338"/><use href="#xd" x="47" y="405"/><use href="#xd" x="102" y="430"/>
<use href="#xs" x="320" y="87"/><use href="#xs" x="363" y="87"/><use href="#xs" x="303" y="148"/>
<use href="#xs" x="532" y="167"/><use href="#xs" x="635" y="167"/>
<use href="#xd" x="802" y="107"/><use href="#xd" x="865" y="236"/>
<use href="#xs" x="845" y="366"/>
</g>

<g id="legend">
<text class="lg" x="142" y="632">kantoren + vergaderzalen</text><rect class="n bl" x="147" y="620.5" width="20" height="17" rx="5"/>
<text class="lg" x="142" y="652">onderwijslaboratoria</text><rect class="n yl" x="147" y="640.5" width="20" height="17" rx="5"/>
<text class="lg" x="142" y="671">onderzoekslaboratoria</text><rect class="n or" x="147" y="659.5" width="20" height="17" rx="5"/>
<text class="lg" x="142" y="691">practica</text><rect class="n pr" x="147" y="679.5" width="20" height="17" rx="5"/>
<text class="lg" x="142" y="710">leslokalen</text><rect class="n ls" x="147" y="698.5" width="20" height="17" rx="5"/>
<text class="lg" x="142" y="731">studielokalen</text><rect class="n st" x="147" y="719.5" width="20" height="17" rx="5"/>
<text class="lg" x="142" y="750">cafetaria</text><rect class="n cf" x="147" y="738.5" width="20" height="17" rx="5"/>
<text class="lg" x="142" y="770">logistieke lokalen</text><rect class="n gy" x="147" y="758.5" width="20" height="17" rx="5"/>
<text class="lg" x="142" y="791">link met begane grond</text><use href="#xs" x="152" y="784"/>
<text class="lg" x="142" y="811">ligging op begane grond</text><use href="#xd" x="150" y="804"/>
</g>

<text x="537" y="427" font-family="Roboto, 'Liberation Sans', sans-serif" font-weight="bold" font-size="58" fill="#111" textLength="316" lengthAdjust="spacingAndGlyphs">PROGRAMMA</text>
</svg>
